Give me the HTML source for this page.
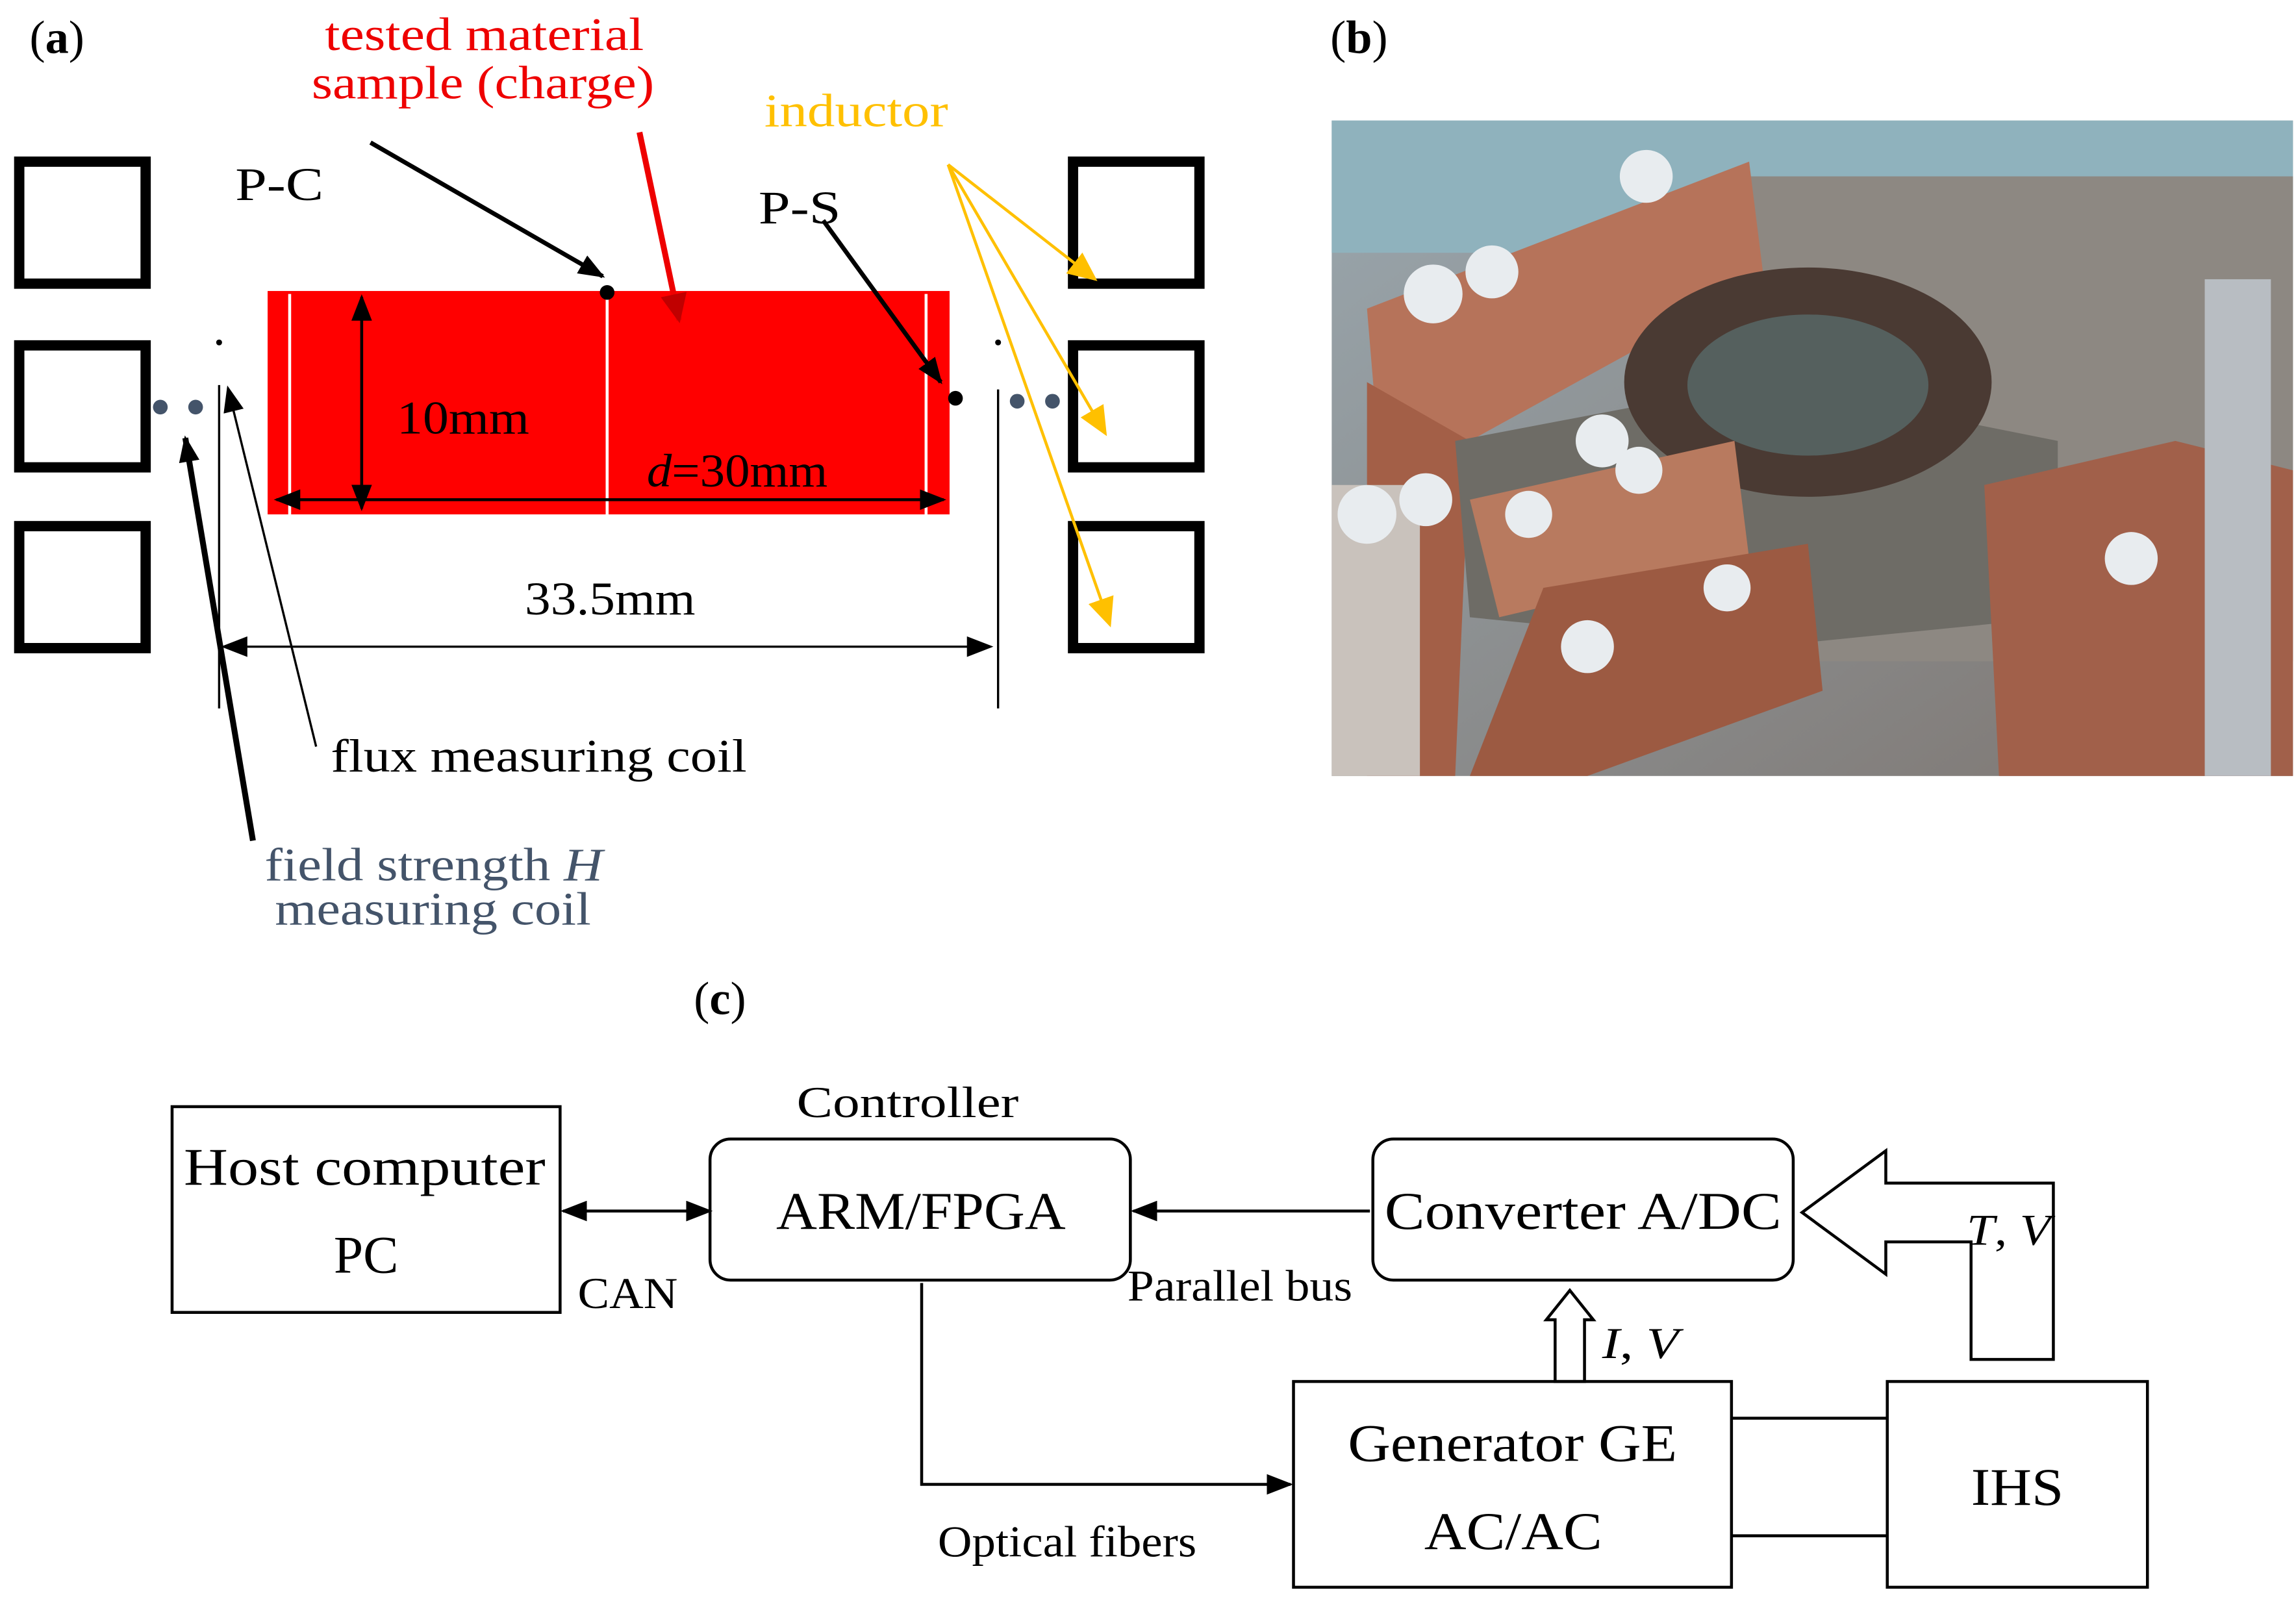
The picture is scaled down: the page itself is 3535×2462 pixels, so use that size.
<!DOCTYPE html>
<html><head><meta charset="utf-8"><style>html,body{margin:0;padding:0;background:#fff}svg{display:block}</style></head><body>
<svg width="3535" height="2462" viewBox="0 0 1562 1088" xmlns="http://www.w3.org/2000/svg" font-family="Liberation Serif, serif">
<defs>
<marker id="a" viewBox="0 0 10 10" refX="9" refY="5" markerWidth="18" markerHeight="14" orient="auto-start-reverse" markerUnits="userSpaceOnUse" preserveAspectRatio="none"><path d="M0,0 L10,5 L0,10 z" fill="#000"/></marker>
<marker id="ao" viewBox="0 0 10 10" refX="9" refY="5" markerWidth="20" markerHeight="18" orient="auto" markerUnits="userSpaceOnUse" preserveAspectRatio="none"><path d="M0,0 L10,5 L0,10 z" fill="#ffc000"/></marker>
<marker id="ar" viewBox="0 0 10 10" refX="9" refY="5" markerWidth="20" markerHeight="18" orient="auto" markerUnits="userSpaceOnUse" preserveAspectRatio="none"><path d="M0,0 L10,5 L0,10 z" fill="#c00000"/></marker>
<linearGradient id="bg" x1="0" y1="0" x2="1" y2="1"><stop offset="0" stop-color="#9aa7ae"/><stop offset="1" stop-color="#7d7570"/></linearGradient>
</defs>
<g font-size="32" lengthAdjust="spacingAndGlyphs">
<text x="20" y="36"><tspan>(</tspan><tspan font-weight="bold">a</tspan><tspan>)</tspan></text>
<text x="905" y="36"><tspan>(</tspan><tspan font-weight="bold">b</tspan><tspan>)</tspan></text>
<text x="472" y="690"><tspan>(</tspan><tspan font-weight="bold">c</tspan><tspan>)</tspan></text>
<text x="221" y="34" fill="#e00" textLength="217" lengthAdjust="spacingAndGlyphs">tested material</text>
<text x="212" y="67" fill="#e00" textLength="233" lengthAdjust="spacingAndGlyphs">sample (charge)</text>
<text x="520" y="86" fill="#ffc000" textLength="125" lengthAdjust="spacingAndGlyphs">inductor</text>
<text x="160" y="136" textLength="60" lengthAdjust="spacingAndGlyphs">P-C</text>
<text x="516" y="152" textLength="56" lengthAdjust="spacingAndGlyphs">P-S</text>
</g>
<g fill="none" stroke="#000" stroke-width="7">
<rect x="13" y="110" width="86" height="83"/><rect x="13" y="235" width="86" height="83"/><rect x="13" y="358" width="86" height="83"/>
<rect x="730" y="110" width="86" height="83"/><rect x="730" y="235" width="86" height="83"/><rect x="730" y="358" width="86" height="83"/>
</g>
<rect x="182" y="198" width="464" height="152" fill="#ff0000"/>
<g stroke="#fff" stroke-width="2"><line x1="197" y1="200" x2="197" y2="350"/><line x1="413" y1="200" x2="413" y2="350"/><line x1="630" y1="200" x2="630" y2="350"/></g>
<g stroke="#000" stroke-width="2" fill="none">
<line x1="246" y1="202" x2="246" y2="346" marker-start="url(#a)" marker-end="url(#a)"/>
<line x1="188" y1="340" x2="642" y2="340" marker-start="url(#a)" marker-end="url(#a)"/>
<line x1="152" y1="440" x2="674" y2="440" marker-start="url(#a)" marker-end="url(#a)" stroke-width="1.5"/>
<line x1="149" y1="262" x2="149" y2="482" stroke-width="1.5"/>
<line x1="679" y1="265" x2="679" y2="482" stroke-width="1.5"/>
<line x1="252" y1="97" x2="410" y2="188" stroke-width="3" marker-end="url(#a)"/>
<line x1="560" y1="150" x2="640" y2="260" stroke-width="3" marker-end="url(#a)"/>
<line x1="215" y1="508" x2="155" y2="264" stroke-width="1.5" marker-end="url(#a)"/>
<line x1="172" y1="572" x2="126" y2="298" stroke-width="4" marker-end="url(#a)"/>
</g>
<line x1="435" y1="90" x2="462" y2="218" stroke="#e00" stroke-width="4" marker-end="url(#ar)"/>
<g stroke="#ffc000" stroke-width="2">
<line x1="645" y1="112" x2="745" y2="190" marker-end="url(#ao)"/>
<line x1="645" y1="112" x2="752" y2="295" marker-end="url(#ao)"/>
<line x1="645" y1="112" x2="755" y2="425" marker-end="url(#ao)"/>
</g>
<circle cx="413" cy="199" r="5"/><circle cx="650" cy="271" r="5"/>
<circle cx="149" cy="233" r="2"/><circle cx="679" cy="233" r="2"/>
<g fill="#44546a"><circle cx="109" cy="277" r="5"/><circle cx="133" cy="277" r="5"/><circle cx="692" cy="273" r="5"/><circle cx="716" cy="273" r="5"/></g>
<g font-size="32">
<text x="270" y="295" textLength="90" lengthAdjust="spacingAndGlyphs">10mm</text>
<text x="440" y="331" textLength="123" lengthAdjust="spacingAndGlyphs"><tspan font-style="italic">d</tspan>=30mm</text>
<text x="357" y="418" textLength="116" lengthAdjust="spacingAndGlyphs">33.5mm</text>
<text x="225" y="525" textLength="283" lengthAdjust="spacingAndGlyphs">flux measuring coil</text>
<text x="180" y="599" fill="#44546a" textLength="230" lengthAdjust="spacingAndGlyphs">field strength <tspan font-style="italic">H</tspan></text>
<text x="187" y="629" fill="#44546a" textLength="215" lengthAdjust="spacingAndGlyphs">measuring coil</text>
</g>
<!-- photo -->
<g>
<rect x="906" y="82" width="654" height="446" fill="url(#bg)"/>
<rect x="906" y="82" width="654" height="90" fill="#8fb2bd"/>
<rect x="1180" y="120" width="380" height="330" fill="#8d8882"/>
<polygon points="930,210 1190,110 1200,190 1000,300 940,330" fill="#b6735a"/>
<polygon points="930,260 1000,300 990,528 930,528" fill="#a35f47"/>
<polygon points="990,300 1200,260 1400,300 1400,420 1200,440 1000,420" fill="#6e6c66"/>
<ellipse cx="1230" cy="260" rx="125" ry="78" fill="#4a3a33"/>
<ellipse cx="1230" cy="262" rx="82" ry="48" fill="#55605e"/>
<polygon points="1000,340 1180,300 1190,380 1020,420" fill="#b87a5f"/>
<polygon points="1050,400 1230,370 1240,470 1080,528 1000,528" fill="#9c5a42"/>
<polygon points="1350,330 1480,300 1560,320 1560,528 1360,528" fill="#a1604a"/>
<rect x="1500" y="190" width="45" height="338" fill="#b8bdc2"/>
<rect x="906" y="330" width="60" height="198" fill="#c9c2bc"/>
<g fill="#e8ecef"><circle cx="975" cy="200" r="20"/><circle cx="1015" cy="185" r="18"/><circle cx="1090" cy="300" r="18"/><circle cx="1115" cy="320" r="16"/><circle cx="930" cy="350" r="20"/><circle cx="970" cy="340" r="18"/><circle cx="1040" cy="350" r="16"/><circle cx="1175" cy="400" r="16"/><circle cx="1080" cy="440" r="18"/><circle cx="1450" cy="380" r="18"/><circle cx="1120" cy="120" r="18"/></g>
</g>
<!-- (c) -->
<g fill="none" stroke="#000" stroke-width="2">
<rect x="117" y="753" width="264" height="140"/>
<rect x="483" y="775" width="286" height="96" rx="14"/>
<rect x="934" y="775" width="286" height="96" rx="14"/>
<rect x="880" y="940" width="298" height="140"/>
<rect x="1284" y="940" width="177" height="140"/>
<line x1="1178" y1="965" x2="1284" y2="965"/><line x1="1178" y1="1045" x2="1284" y2="1045"/>
<line x1="383" y1="824" x2="483" y2="824" marker-start="url(#a)" marker-end="url(#a)"/>
<line x1="932" y1="824" x2="771" y2="824" marker-end="url(#a)"/>
<polyline points="627,873 627,1010 878,1010" marker-end="url(#a)"/>
<polygon points="1058,940 1058,898 1052,898 1068,878 1084,898 1078,898 1078,940"/>
<polygon points="1341,925 1341,845 1283,845 1283,867 1226,825 1283,783 1283,805 1397,805 1397,925"/>
</g>
<g font-size="36">
<text x="125" y="806" textLength="246" lengthAdjust="spacingAndGlyphs">Host computer</text>
<text x="249" y="866" text-anchor="middle">PC</text>
<text x="528" y="836" textLength="197" lengthAdjust="spacingAndGlyphs">ARM/FPGA</text>
<text x="942" y="836" textLength="270" lengthAdjust="spacingAndGlyphs">Converter A/DC</text>
<text x="917" y="994" textLength="224" lengthAdjust="spacingAndGlyphs">Generator GE</text>
<text x="969" y="1054" textLength="121" lengthAdjust="spacingAndGlyphs">AC/AC</text>
<text x="1341" y="1024" textLength="63" lengthAdjust="spacingAndGlyphs">IHS</text>
</g>
<g font-size="30">
<text x="542" y="760" textLength="151" lengthAdjust="spacingAndGlyphs">Controller</text>
<text x="393" y="890" textLength="68" lengthAdjust="spacingAndGlyphs">CAN</text>
<text x="767" y="885" textLength="153" lengthAdjust="spacingAndGlyphs">Parallel bus</text>
<text x="638" y="1059" textLength="176" lengthAdjust="spacingAndGlyphs">Optical fibers</text>
<text x="1090" y="924" font-style="italic" textLength="52" lengthAdjust="spacingAndGlyphs">I<tspan font-style="normal">, </tspan>V</text>
<text x="1338" y="847" font-style="italic" textLength="57" lengthAdjust="spacingAndGlyphs">T<tspan font-style="normal">, </tspan>V</text>
</g>
</svg>
</body></html>
